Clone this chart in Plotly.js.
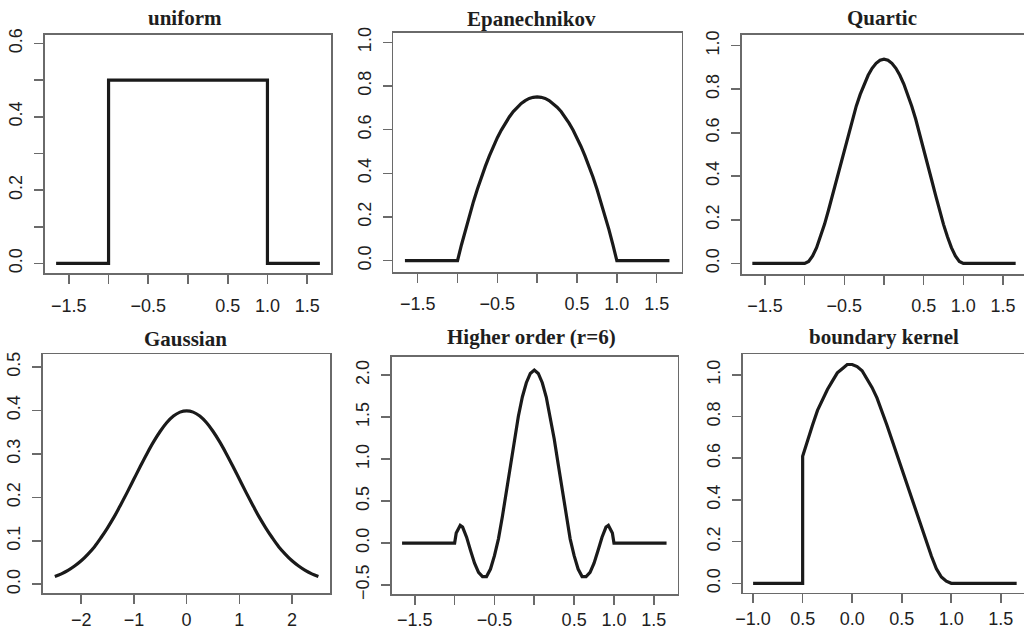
<!DOCTYPE html>
<html>
<head>
<meta charset="utf-8">
<script src="https://cdn.plot.ly/plotly-3.0.1.min.js"></script>
<style>html,body{margin:0;padding:0;background:#fff;}#chart{width:1024px;height:636px;}</style>
</head>
<body>
<div id="chart"></div>
<script>
// ---- Data ----
const titles = ["uniform", "Epanechnikov", "Quartic", "Gaussian", "Higher order (r=6)", "boundary kernel"];

const uniformX = [-1.66, -1.0, -1.0, 1.0, 1.0, 1.66];
const uniformY = [0, 0, 0.5, 0.5, 0, 0];

const epanX = [-1.66, -1.0, -0.95, -0.9, -0.85, -0.8, -0.75, -0.7, -0.65, -0.6, -0.55, -0.5, -0.45, -0.4, -0.35, -0.3, -0.25, -0.2, -0.15, -0.1, -0.05, 0,
               0.05, 0.1, 0.15, 0.2, 0.25, 0.3, 0.35, 0.4, 0.45, 0.5, 0.55, 0.6, 0.65, 0.7, 0.75, 0.8, 0.85, 0.9, 0.95, 1.0, 1.66];
const epanY = [0, 0, 0.073, 0.143, 0.208, 0.27, 0.328, 0.383, 0.433, 0.48, 0.523, 0.563, 0.598, 0.63, 0.658, 0.683, 0.703, 0.72, 0.733, 0.743, 0.748, 0.75,
               0.748, 0.743, 0.733, 0.72, 0.703, 0.683, 0.658, 0.63, 0.598, 0.563, 0.523, 0.48, 0.433, 0.383, 0.328, 0.27, 0.208, 0.143, 0.073, 0, 0];

const quartX = [-1.66, -1.0, -0.95, -0.9, -0.85, -0.8, -0.75, -0.7, -0.65, -0.6, -0.55, -0.5, -0.45, -0.4, -0.35, -0.3, -0.25, -0.2, -0.15, -0.1, -0.05, 0,
                0.05, 0.1, 0.15, 0.2, 0.25, 0.3, 0.35, 0.4, 0.45, 0.5, 0.55, 0.6, 0.65, 0.7, 0.75, 0.8, 0.85, 0.9, 0.95, 1.0, 1.66];
const quartY = [0, 0, 0.009, 0.034, 0.072, 0.122, 0.179, 0.244, 0.313, 0.384, 0.456, 0.527, 0.596, 0.662, 0.722, 0.776, 0.824, 0.864, 0.896, 0.919, 0.933, 0.938,
                0.933, 0.919, 0.896, 0.864, 0.824, 0.776, 0.722, 0.662, 0.596, 0.527, 0.456, 0.384, 0.313, 0.244, 0.179, 0.122, 0.072, 0.034, 0.009, 0, 0];

const gaussX = [-2.5, -2.375, -2.25, -2.125, -2.0, -1.875, -1.75, -1.625, -1.5, -1.375, -1.25, -1.125, -1.0, -0.875, -0.75, -0.625, -0.5, -0.375, -0.25, -0.125, 0,
                0.125, 0.25, 0.375, 0.5, 0.625, 0.75, 0.875, 1.0, 1.125, 1.25, 1.375, 1.5, 1.625, 1.75, 1.875, 2.0, 2.125, 2.25, 2.375, 2.5];
const gaussY = [0.018, 0.024, 0.032, 0.042, 0.054, 0.069, 0.086, 0.107, 0.130, 0.155, 0.183, 0.212, 0.242, 0.272, 0.301, 0.328, 0.352, 0.372, 0.387, 0.396, 0.399,
                0.396, 0.387, 0.372, 0.352, 0.328, 0.301, 0.272, 0.242, 0.212, 0.183, 0.155, 0.130, 0.107, 0.086, 0.069, 0.054, 0.042, 0.032, 0.024, 0.018];

const highX = [-1.66, -1.0, -0.98, -0.93, -0.9, -0.85, -0.8, -0.75, -0.7, -0.65, -0.6, -0.55, -0.5, -0.45, -0.4, -0.35, -0.3, -0.25, -0.2, -0.15, -0.1, -0.05, 0,
               0.05, 0.1, 0.15, 0.2, 0.25, 0.3, 0.35, 0.4, 0.45, 0.5, 0.55, 0.6, 0.65, 0.7, 0.75, 0.8, 0.85, 0.9, 0.93, 0.98, 1.0, 1.66];
const highY = [0, 0, 0.12, 0.21, 0.19, 0.07, -0.09, -0.24, -0.35, -0.40, -0.40, -0.31, -0.15, 0.05, 0.32, 0.63, 0.94, 1.24, 1.51, 1.74, 1.91, 2.02, 2.06,
               2.02, 1.91, 1.74, 1.51, 1.24, 0.94, 0.63, 0.32, 0.05, -0.15, -0.31, -0.40, -0.40, -0.35, -0.24, -0.09, 0.07, 0.19, 0.21, 0.12, 0, 0];

const boundX = [-1.0, -0.5, -0.5, -0.45, -0.4, -0.35, -0.3, -0.25, -0.2, -0.15, -0.1, -0.05, 0, 0.05, 0.1, 0.15, 0.2, 0.25, 0.3, 0.35, 0.4, 0.45, 0.5, 0.55, 0.6, 0.65, 0.7, 0.75, 0.8, 0.85, 0.9, 0.95, 1.0, 1.66];
const boundY = [0, 0, 0.61, 0.69, 0.76, 0.83, 0.88, 0.93, 0.97, 1.01, 1.03, 1.05, 1.05, 1.04, 1.02, 0.98, 0.94, 0.89, 0.83, 0.76, 0.69, 0.62, 0.55, 0.48, 0.41, 0.33, 0.26, 0.19, 0.13, 0.07, 0.03, 0.01, 0, 0];

// tick values / labels
const xTickVals1 = [-1.5, -1.0, -0.5, 0, 0.5, 1.0, 1.5];
const xTickText1 = ["\u22121.5", "", "\u22120.5", "", "0.5", "1.0", "1.5"];
const xTickValsG = [-2, -1, 0, 1, 2];
const xTickTextG = ["\u22122", "\u22121", "0", "1", "2"];
const xTickValsB = [-1.0, -0.5, 0, 0.5, 1.0, 1.5];
const xTickTextB = ["\u22121.0", "0.5", "0.0", "0.5", "1.0", "1.5"];

const yTickValsU = [0, 0.1, 0.2, 0.3, 0.4, 0.5, 0.6];
const yTickTextU = ["0.0", "", "0.2", "", "0.4", "", "0.6"];
const yTickVals01 = [0, 0.2, 0.4, 0.6, 0.8, 1.0];
const yTickText01 = ["0.0", "0.2", "0.4", "0.6", "0.8", "1.0"];
const yTickValsG = [0, 0.1, 0.2, 0.3, 0.4, 0.5];
const yTickTextG = ["0.0", "0.1", "0.2", "0.3", "0.4", "0.5"];
const yTickValsH = [-0.5, 0, 0.5, 1.0, 1.5, 2.0];
const yTickTextH = ["\u22120.5", "0.0", "0.5", "1.0", "1.5", "2.0"];

// ---- Layout geometry (pixels) ----
const W = 1024, H = 636;
const panels = [
  {x: uniformX, y: uniformY, box: [45, 331, 35, 273.3], xr: [-1.80, 1.80], yr: [-0.027, 0.623], xtv: xTickVals1, xtt: xTickText1, ytv: yTickValsU, ytt: yTickTextU, right: true, title: [185, 18], xs: 6, shape: "linear"},
  {x: epanX, y: epanY, box: [393.3, 681.7, 32.7, 272], xr: [-1.806, 1.814], yr: [-0.052, 1.044], xtv: xTickVals1, xtt: xTickText1, ytv: yTickVals01, ytt: yTickText01, right: true, title: [531, 19], xs: 6, shape: "linear"},
  {x: quartX, y: quartY, box: [741.7, 1024, 35, 274], xr: [-1.794, 1.765], yr: [-0.049, 1.049], xtv: xTickVals1, xtt: xTickText1, ytv: yTickVals01, ytt: yTickText01, right: false, title: [882, 18], xs: 6, shape: "linear"},
  {x: gaussX, y: gaussY, box: [42.7, 330, 354.3, 593.3], xr: [-2.73, 2.72], yr: [-0.0207, 0.529], xtv: xTickValsG, xtt: xTickTextG, ytv: yTickValsG, ytt: yTickTextG, right: true, title: [185, 339], xs: 0, shape: "spline"},
  {x: highX, y: highY, box: [391.7, 677.7, 356.7, 594], xr: [-1.79, 1.80], yr: [-0.607, 2.22], xtv: xTickVals1, xtt: xTickText1, ytv: yTickValsH, ytt: yTickTextH, right: true, title: [531, 337], xs: 0, shape: "linear"},
  {x: boundX, y: boundY, box: [742.7, 1024, 354.3, 592.7], xr: [-1.105, 1.734], yr: [-0.045, 1.099], xtv: xTickValsB, xtt: xTickTextB, ytv: yTickVals01, ytt: yTickText01, right: false, title: [884, 337], xs: 0, shape: "linear"}
];

const lineCol = "#6a6a6a";
const textCol = "#1e1e1e";
const tickFont = {family: "Liberation Sans, Arial, Helvetica, sans-serif", size: 18, color: textCol};

const traces = [];
const layout = {
  width: W, height: H,
  margin: {l: 0, r: 0, t: 0, b: 0},
  paper_bgcolor: "#ffffff", plot_bgcolor: "#ffffff",
  showlegend: false,
  annotations: []
};

panels.forEach((p, i) => {
  const n = i === 0 ? "" : String(i + 1);
  traces.push({
    type: "scatter", mode: "lines", x: p.x, y: p.y,
    xaxis: "x" + n, yaxis: "y" + n,
    line: {color: "#1a1a1a", width: 3.2, shape: p.shape},
    hoverinfo: "skip"
  });
  const common = {
    showgrid: false, zeroline: false, showline: true, linecolor: lineCol, linewidth: 1.6,
    ticks: "outside", ticklen: 9, tickwidth: 1.6, tickcolor: lineCol,
    tickfont: tickFont, tickmode: "array", fixedrange: true
  };
  layout["xaxis" + n] = Object.assign({}, common, {
    domain: [p.box[0] / W, p.box[1] / W],
    range: p.xr, anchor: "y" + n,
    tickvals: p.xtv, ticktext: p.xtt, mirror: true,
    ticklabelstandoff: p.xs
  });
  layout["yaxis" + n] = Object.assign({}, common, {
    domain: [1 - p.box[3] / H, 1 - p.box[2] / H],
    range: p.yr, anchor: "x" + n,
    tickvals: p.ytv, ticktext: p.ytt, mirror: p.right,
    tickangle: -90, ticklabelstandoff: 5
  });
  layout.annotations.push({
    text: "<b>" + titles[i] + "</b>",
    xref: "paper", yref: "paper",
    x: p.title[0] / W, y: 1 - p.title[1] / H,
    xanchor: "center", yanchor: "middle",
    showarrow: false,
    font: {family: "Liberation Serif, Times New Roman, serif", size: 21, color: textCol}
  });
});

Plotly.newPlot("chart", traces, layout, {staticPlot: true, displayModeBar: false});
</script>
</body>
</html>
